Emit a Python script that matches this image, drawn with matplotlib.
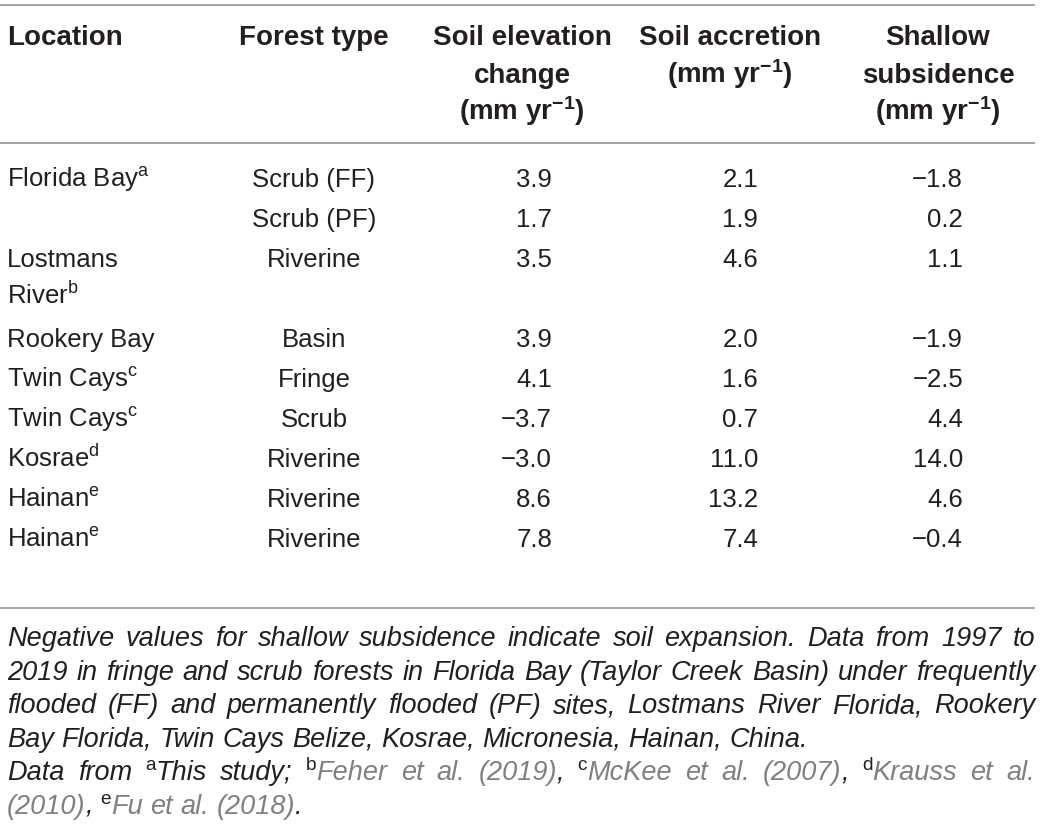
import re
import matplotlib
matplotlib.use("Agg")
import matplotlib.pyplot as plt

plt.rcParams["font.family"] = ["Liberation Sans", "DejaVu Sans"]
plt.rcParams["mathtext.fontset"] = "custom"
plt.rcParams["mathtext.rm"] = "Liberation Sans"
plt.rcParams["mathtext.it"] = "Liberation Sans:italic"
plt.rcParams["mathtext.bf"] = "Liberation Sans:bold"

# ── Table data ──────────────────────────────────────────────────────────
LOCATIONS = ["Florida Bay", "", "Lostmans\nRiver", "Rookery Bay", "Twin Cays",
             "Twin Cays", "Kosrae", "Hainan", "Hainan"]
LOC_NOTES = ["a", "", "b", "", "c", "c", "d", "e", "e"]
FOREST_TYPES = ["Scrub (FF)", "Scrub (PF)", "Riverine", "Basin", "Fringe",
                "Scrub", "Riverine", "Riverine", "Riverine"]
ELEVATION_CHANGE = [3.9, 1.7, 3.5, 3.9, 4.1, -3.7, -3.0, 8.6, 7.8]
ACCRETION = [2.1, 1.9, 4.6, 2.0, 1.6, 0.7, 11.0, 13.2, 7.4]
SUBSIDENCE = [-1.8, 0.2, 1.1, -1.9, -2.5, 4.4, 14.0, 4.6, -0.4]

UNIT = r"(mm yr$^{\mathbf{-1}}$)"
HEADERS = ["Location", "Forest type", "Soil elevation\nchange\n" + UNIT,
           "Soil accretion\n" + UNIT, "Shallow\nsubsidence\n" + UNIT]

# footnote lines: ^x = superscript, {...} = grey reference text; flag = justified
FOOTNOTE = [
    ("Negative values for shallow subsidence indicate soil expansion. Data from 1997 to", True),
    ("2019 in fringe and scrub forests in Florida Bay (Taylor Creek Basin) under frequently", True),
    ("flooded (FF) and permanently flooded (PF) sites, Lostmans River Florida, Rookery", True),
    ("Bay Florida, Twin Cays Belize, Kosrae, Micronesia, Hainan, China.", False),
    ("Data from ^aThis study; ^b{Feher et al. (2019)}, ^c{McKee et al. (2007)}, ^d{Krauss et al.}", True),
    ("{(2010)}, ^e{Fu et al. (2018)}.", False),
]

# ── Layout ──────────────────────────────────────────────────────────────
W, H = 1041, 837
FS = 18.5
FS_HEAD = 20
FS_FOOT = 19.5
INK = "#231f20"
GREY = "#808080"
RULE = "#8c8c8c"
X0, X1 = 7, 1035

COL_CENTER = [None, 314, 522, 730, 938]
COL_RIGHT = [None, None, 552, 758, 963]
HEAD_BASE = [45, 83, 120]
ROW_BASE0 = 187
ROW_STEP = 40
CELL_LINE = 37
FOOT_BASE0 = 646
FOOT_STEP = 33.6

fig = plt.figure(figsize=(W / 100, H / 100), dpi=100)
ax = fig.add_axes([0, 0, 1, 1])
ax.set_xlim(0, W)
ax.set_ylim(H, 0)
ax.axis("off")

# rules
for y in (6, 144, 609):
    ax.plot([0, X1], [y, y], color=RULE, lw=1.1, solid_capstyle="butt")

# header
for j, head in enumerate(HEADERS):
    for k, line in enumerate(head.split("\n")):
        if j == 0:
            ax.text(X0, HEAD_BASE[k], line, ha="left", va="baseline",
                    fontsize=FS_HEAD, fontweight="bold", color=INK)
        else:
            ax.text(COL_CENTER[j], HEAD_BASE[k], line, ha="center", va="baseline",
                    fontsize=FS_HEAD, fontweight="bold", color=INK)


def fmt(v):
    return f"{v:.1f}".replace("-", "\u2212")


# body
y = ROW_BASE0
for i in range(len(FOREST_TYPES)):
    loc_lines = LOCATIONS[i].split("\n") if LOCATIONS[i] else [""]
    for k, line in enumerate(loc_lines):
        txt = line
        if k == len(loc_lines) - 1 and LOC_NOTES[i]:
            txt += r"$^{\mathrm{%s}}$" % LOC_NOTES[i]
        if txt:
            ax.text(X0, y + k * CELL_LINE, txt, ha="left", va="baseline",
                    fontsize=FS, color=INK)
    ax.text(COL_CENTER[1], y, FOREST_TYPES[i], ha="center", va="baseline",
            fontsize=FS, color=INK)
    for j, vals in zip((2, 3, 4), (ELEVATION_CHANGE, ACCRETION, SUBSIDENCE)):
        ax.text(COL_RIGHT[j], y, fmt(vals[i]), ha="right", va="baseline",
                fontsize=FS, color=INK)
    y += ROW_STEP * len(loc_lines)

# footnote, laid out word by word so the lines can be justified
renderer = fig.canvas.get_renderer()
SUP_FS = FS_FOOT * 0.7
SUP_RISE = 10


def parse(line):
    words, word, grey = [], [], False
    for tok in re.findall(r"\^\w|\{|\}| |[^\^{} ]+", line):
        if tok == " ":
            words.append(word)
            word = []
        elif tok == "{":
            grey = True
        elif tok == "}":
            grey = False
        elif tok.startswith("^"):
            word.append((tok[1:], INK, True))
        else:
            word.append((tok, GREY if grey else INK, False))
    words.append(word)
    return words


def width(t):
    return t.get_window_extent(renderer).width


probe_a = ax.text(0, 0, "a a", fontsize=FS_FOOT, style="italic")
probe_b = ax.text(0, 0, "aa", fontsize=FS_FOOT, style="italic")
SPACE = width(probe_a) - width(probe_b)
probe_a.remove()
probe_b.remove()

for n, (line, justify) in enumerate(FOOTNOTE):
    yb = FOOT_BASE0 + n * FOOT_STEP
    words = []
    for word in parse(line):
        arts = []
        for text, col, sup in word:
            if sup:
                t = ax.text(0, yb - SUP_RISE, text, fontsize=SUP_FS, color=col,
                            ha="left", va="baseline")
            else:
                t = ax.text(0, yb, text, fontsize=FS_FOOT, style="italic", color=col,
                            ha="left", va="baseline")
            arts.append((t, width(t)))
        words.append(arts)
    widths = [sum(w for _, w in arts) for arts in words]
    gap = SPACE
    if justify and len(words) > 1:
        gap = (X1 - X0 - sum(widths)) / (len(words) - 1)
    x = X0
    for arts, ww in zip(words, widths):
        xx = x
        for t, w in arts:
            t.set_x(xx)
            xx += w
        x += ww + gap

fig.savefig("out.png", dpi=100)
